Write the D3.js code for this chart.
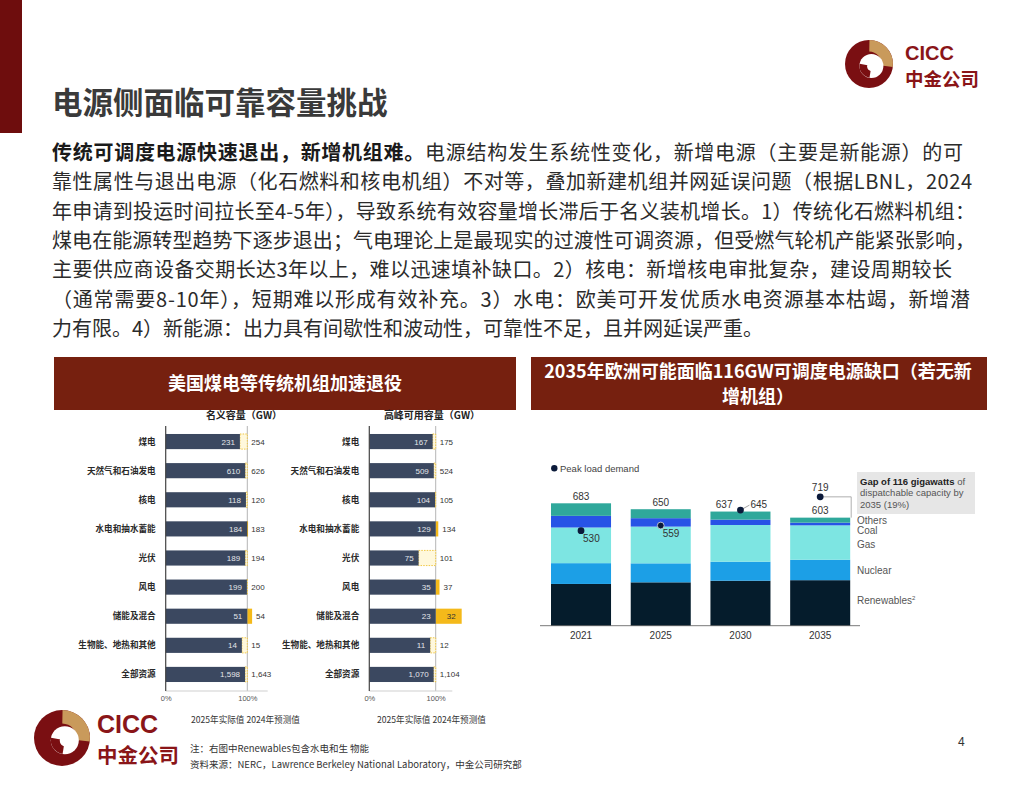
<!DOCTYPE html>
<html><head><meta charset="utf-8">
<script src="https://cdn.jsdelivr.net/npm/d3@7"></script>
<style>body{margin:0;background:#fff}svg{display:block}</style>
</head><body>
<svg id="c" width="1024" height="791"></svg>
<script>
// ---------- data ----------
const categories = ["煤电","天然气和石油发电","核电","水电和抽水蓄能","光伏","风电","储能及混合","生物能、地热和其他","全部资源"];
const nominal2025 = [231,610,118,184,189,199,51,14,1598];
const nominal2024 = [254,626,120,183,194,200,54,15,1643];
const nominalStyle = ["dashed","dashed","dashed","solid","dashed","dashed","solid","dashed","dashed"];
const peak2025 = [167,509,104,129,75,35,23,11,1070];
const peak2024 = [175,524,105,134,101,37,32,12,1104];
const peakStyle = ["dashed","dashed","dashed","solid","dashed","solid","solid","dashed","dashed"];
const pctTicks = ["0%","100%"];

const years = ["2021","2025","2030","2035"];
const seriesNames = ["Renewables","Nuclear","Gas","Coal","Others"];
const renewables = [233,242,251,254];
const nuclear = [116,106,106,114];
const gas = [199,205,205,192];
const coal = [65,47,30,15];
const others = [70,50,45,28];
const totals = [683,650,637,603];
const peakLoad = [530,559,645,719];

const paraLines = [
  ["传统可调度电源快速退出，新增机组难。","电源结构发生系统性变化，新增电源（主要是新能源）的可"],
  ["","靠性属性与退出电源（化石燃料和核电机组）不对等，叠加新建机组并网延误问题（根据LBNL，2024"],
  ["","年申请到投运时间拉长至4-5年），导致系统有效容量增长滞后于名义装机增长。1）传统化石燃料机组："],
  ["","煤电在能源转型趋势下逐步退出；气电理论上是最现实的过渡性可调资源，但受燃气轮机产能紧张影响，"],
  ["","主要供应商设备交期长达3年以上，难以迅速填补缺口。2）核电：新增核电审批复杂，建设周期较长"],
  ["","（通常需要8-10年），短期难以形成有效补充。3）水电：欧美可开发优质水电资源基本枯竭，新增潜"],
  ["","力有限。4）新能源：出力具有间歇性和波动性，可靠性不足，且并网延误严重。"]
];

// ---------- setup ----------
const svg = d3.select("#c");
const CJK = "'Noto Sans CJK SC','Noto Sans',sans-serif";
const LAT = "'Liberation Sans',Arial,sans-serif";
const MAROON = "#6e0d0d";
const HEAD = "#76200f";
const fmt = d3.format(",");

// left maroon strip
svg.append("rect").attr("x",0).attr("y",0).attr("width",22).attr("height",133).attr("fill",MAROON);

// title
svg.append("text").attr("x",52).attr("y",114).text("电源侧面临可靠容量挑战")
  .attr("font-family",CJK).attr("font-weight",700).attr("font-size",30.5).attr("fill","#3a3a3a");

// logo
function logo(cx, cy, r, textX, s){
  const g = svg.append("g");
  g.append("circle").attr("cx",cx).attr("cy",cy).attr("r",r).attr("fill","#7a0f12");
  g.append("path").attr("transform",`translate(${cx},${cy})`)
    .attr("d", d3.arc().innerRadius(r*0.52).outerRadius(r)({startAngle:0.02,endAngle:1.7}))
    .attr("fill","#c99a5b");
  g.append("circle").attr("cx",cx+r*0.1).attr("cy",cy+r*0.08).attr("r",r*0.5).attr("fill","#fff");
  g.append("path").attr("transform",`translate(${cx+r*0.1},${cy+r*0.08})`)
    .attr("d", d3.arc().innerRadius(0).outerRadius(r*0.5)({startAngle:3.3,endAngle:4.9}))
    .attr("fill","#7a0f12");
  g.append("circle").attr("cx",cx+r*0.12).attr("cy",cy+r*0.1).attr("r",r*0.2).attr("fill","#fff");
  g.append("text").attr("x",textX).attr("y",s.enY).text("CICC")
    .attr("font-family",LAT).attr("font-weight",700).attr("font-size",s.en).attr("fill","#8a1518");
  g.append("text").attr("x",textX).attr("y",s.cnY).text("中金公司")
    .attr("font-family",CJK).attr("font-weight",700).attr("font-size",s.cn).attr("fill","#8a1518");
}
logo(869, 64, 24, 905, {en:20, cn:18.5, enY:60, cnY:86});
logo(62, 738, 28, 97, {en:25, cn:20.5, enY:733, cnY:763});

// paragraph
const lineEnds = [963,972,975,975,952,970,null];
paraLines.forEach((ln,i)=>{
  const t = svg.append("text").attr("x",52).attr("y",153 + i*29.3 + 7)
    .attr("font-family",CJK).attr("font-size",20).attr("fill","#2b2b2b");
  if (ln[0]) t.append("tspan").attr("font-weight",700).attr("fill","#1a1a1a").text(ln[0]);
  t.append("tspan").text(ln[1]);
  if (lineEnds[i]) t.attr("textLength", lineEnds[i]-52).attr("lengthAdjust","spacing");
});

// section headers
svg.append("rect").attr("x",54).attr("y",357).attr("width",462).attr("height",53).attr("fill",HEAD);
svg.append("text").attr("x",285).attr("y",390).attr("text-anchor","middle").text("美国煤电等传统机组加速退役")
  .attr("font-family",CJK).attr("font-weight",700).attr("font-size",18).attr("fill","#fff");
svg.append("rect").attr("x",531).attr("y",357).attr("width",456).attr("height",53).attr("fill",HEAD);
[["2035年欧洲可能面临116GW可调度电源缺口（若无新",378],["增机组）",403]].forEach(d=>{
  svg.append("text").attr("x",758).attr("y",d[1]).attr("text-anchor","middle").text(d[0])
    .attr("font-family",CJK).attr("font-weight",700).attr("font-size",18).attr("fill","#fff");
});

// ---------- left panels ----------
function barPanel(o){
  const x = d3.scaleLinear().domain([0,1]).range([o.axisX, o.axisX+o.fullW]);
  const y = d3.scaleBand().domain(categories).range([427,689]).paddingInner(0.48).paddingOuter(0.24);
  const g = svg.append("g");
  g.append("text").attr("x",o.titleX).attr("y",419).attr("text-anchor","middle").text(o.title)
    .attr("font-family",CJK).attr("font-weight",700).attr("font-size",10).attr("fill","#222");
  g.append("line").attr("x1",x(1)).attr("x2",x(1)).attr("y1",426).attr("y2",691).attr("stroke","#b5b5b5");
  g.append("line").attr("x1",o.axisX).attr("x2",o.axisX+o.fullW*1.25).attr("y1",691).attr("y2",691).attr("stroke","#cfcfcf");
  categories.forEach((c,i)=>{
    const a = o.a[i], f = o.f[i];
    const yy = y(c), h = y.bandwidth();
    let darkEnd, yStart, yEnd;
    if (o.style[i]==="dashed"){ darkEnd = Math.min(a/f,1); yStart = darkEnd; yEnd = 1; }
    else { darkEnd = 1; yStart = Math.min(1,f/a); yEnd = Math.max(1,f/a); }
    if (o.style[i]==="dashed"){
      g.append("rect").attr("x",x(yStart)).attr("y",yy).attr("width",Math.max(0,x(yEnd)-x(yStart))).attr("height",h)
        .attr("fill","#fff8dc").attr("stroke","#efc233").attr("stroke-width",0.9).attr("stroke-dasharray","1.5,1.2");
    } else {
      g.append("rect").attr("x",x(yStart)).attr("y",yy).attr("width",Math.max(1.2,x(yEnd)-x(yStart))).attr("height",h)
        .attr("fill","#f4b91a");
    }
    g.append("rect").attr("x",x(0)).attr("y",yy).attr("width",x(darkEnd)-x(0)).attr("height",h).attr("fill","#3b4860");
    g.append("text").attr("x",x(darkEnd)-5).attr("y",yy+h/2+3).attr("text-anchor","end").text(fmt(a))
      .attr("font-family",LAT).attr("font-size",8).attr("fill","#e4e6ea");
    const yw = x(yEnd)-x(1);
    if (o.style[i]==="solid" && yw>20){
      g.append("text").attr("x",x(yEnd)-6).attr("y",yy+h/2+3).attr("text-anchor","end").text(fmt(f))
        .attr("font-family",LAT).attr("font-size",8).attr("fill","#333");
    } else {
      g.append("text").attr("x",x(Math.max(1,yEnd))+4).attr("y",yy+h/2+3).text(fmt(f))
        .attr("font-family",LAT).attr("font-size",8).attr("fill","#333");
    }
    g.append("text").attr("x",o.axisX-10).attr("y",yy+h/2+3).attr("text-anchor","end").text(c)
      .attr("font-family",CJK).attr("font-weight",700).attr("font-size",8.6).attr("fill","#2a2a2a");
  });
  g.append("line").attr("x1",o.axisX).attr("x2",o.axisX).attr("y1",426).attr("y2",691).attr("stroke","#444").attr("stroke-width",1.2);
  const ax = g.append("g").attr("transform","translate(0,691)")
    .call(d3.axisBottom(x).tickValues([0,1]).tickFormat((d,i)=>pctTicks[i]).tickSize(0).tickPadding(5));
  ax.select(".domain").remove();
  ax.selectAll("text").attr("font-family",LAT).attr("font-size",7.5).attr("fill","#555");
  g.append("text").attr("x",o.legendX).attr("y",723).text("2025年实际值 2024年预测值")
    .attr("font-family",CJK).attr("font-size",8.6).attr("fill","#333");
}
barPanel({axisX:165.7, fullW:81.6, a:nominal2025, f:nominal2024, style:nominalStyle, title:"名义容量（GW）", titleX:244, legendX:191});
barPanel({axisX:369.3, fullW:66.4, a:peak2025, f:peak2024, style:peakStyle, title:"高峰可用容量（GW）", titleX:432, legendX:377});

// ---------- right panel ----------
const colors = {Renewables:"#051c2c", Nuclear:"#1c9fe6", Gas:"#7de5e2", Coal:"#2753e6", Others:"#2fa89b"};
const base = 625.7;
const yR = d3.scaleLinear().domain([0,800]).range([base, base-800*0.1792]);
const xR = d3.scaleBand().domain(years).range([541.2,860]).paddingInner(0.247).paddingOuter(0.123);
const table = years.map((yr,i)=>({year:yr, Renewables:renewables[i], Nuclear:nuclear[i], Gas:gas[i], Coal:coal[i], Others:others[i]}));
const stack = d3.stack().keys(seriesNames)(table);
const gR = svg.append("g");
stack.forEach(s=>{
  gR.selectAll(null).data(s).enter().append("rect")
    .attr("x",d=>xR(d.data.year)).attr("width",xR.bandwidth())
    .attr("y",d=>yR(d[1])).attr("height",d=>yR(d[0])-yR(d[1]))
    .attr("fill",colors[s.key]);
});
gR.append("line").attr("x1",540).attr("x2",860).attr("y1",base).attr("y2",base).attr("stroke","#555").attr("stroke-width",0.8);
const axR = gR.append("g").attr("transform",`translate(0,${base})`).call(d3.axisBottom(xR).tickSize(0).tickPadding(6));
axR.select(".domain").remove();
axR.selectAll("text").attr("font-family",LAT).attr("font-size",10).attr("fill","#333");

// totals
years.forEach((yr,i)=>{
  const cx = xR(yr)+xR.bandwidth()/2;
  const near = Math.abs(peakLoad[i]-totals[i])<15;
  gR.append("text").attr("x", near ? cx-8 : cx).attr("y",yR(totals[i])-3.5)
    .attr("text-anchor", near ? "end" : "middle").text(totals[i])
    .attr("font-family",LAT).attr("font-size",10).attr("fill","#333");
});
// gap bracket for last year
{
  const i = years.length-1, cx = xR(years[i])+xR.bandwidth()/2, xr = xR(years[i])+xR.bandwidth()+1;
  gR.append("path").attr("d",`M${cx},${yR(peakLoad[i])}H${xr}V${yR(totals[i])}`)
    .attr("fill","none").attr("stroke","#9a9a9a").attr("stroke-width",0.8);
}
// peak load dots + labels
years.forEach((yr,i)=>{
  const cx = xR(yr)+xR.bandwidth()/2, cy = yR(peakLoad[i]);
  let lx, ly, anchor="start";
  if (i===2){
    gR.append("line").attr("x1",cx).attr("y1",cy).attr("x2",cx+9).attr("y2",cy-5).attr("stroke","#8a8a8a").attr("stroke-width",0.8);
    lx = cx+10; ly = cy-2;
  } else if (i===3){ lx = cx; ly = cy-5.5; anchor="middle"; }
  else { lx = cx+2; ly = cy+11; }
  gR.append("circle").attr("cx",cx).attr("cy",cy).attr("r",3.4).attr("fill","#0b1a3a")
    .attr("stroke", i===1 ? "#ddd" : "none").attr("stroke-width",0.8);
  gR.append("text").attr("x",lx).attr("y",ly).attr("text-anchor",anchor).text(peakLoad[i])
    .attr("font-family",LAT).attr("font-size",10).attr("fill","#333");
});
// legend
gR.append("circle").attr("cx",554.3).attr("cy",468.3).attr("r",3.2).attr("fill","#0b1a3a");
gR.append("text").attr("x",560).attr("y",471.8).text("Peak load demand")
  .attr("font-family",LAT).attr("font-size",9.5).attr("fill","#444");
// gap box
gR.append("rect").attr("x",857).attr("y",472).attr("width",118).attr("height",42).attr("fill","#e6e6e6");
const gb = gR.append("text").attr("x",860).attr("y",485).attr("font-family",LAT).attr("font-size",9.5).attr("fill","#555");
gb.append("tspan").attr("font-weight",700).attr("fill","#222").text("Gap of 116 gigawatts");
gb.append("tspan").text(" of");
gR.append("text").attr("x",860).attr("y",496).text("dispatchable capacity by").attr("font-family",LAT).attr("font-size",9.5).attr("fill","#555");
gR.append("text").attr("x",860).attr("y",508).text("2035 (19%)").attr("font-family",LAT).attr("font-size",9.5).attr("fill","#555");
// series labels next to last bar
const labelY = {Others:520, Coal:530.7, Gas:544.3, Nuclear:570, Renewables:600.7};
seriesNames.forEach(k=>{
  const t = gR.append("text").attr("x",857).attr("y",labelY[k]+3.5)
    .attr("font-family",LAT).attr("font-size",10).attr("fill","#555").text(k);
  if (k==="Renewables") t.append("tspan").attr("font-size",6).attr("dy",-4).text("2");
});

// ---------- footer ----------
svg.append("text").attr("x",190).attr("y",752).text("注：右图中Renewables包含水电和生 物能")
  .attr("font-family",CJK).attr("font-size",9.5).attr("fill","#333");
svg.append("text").attr("x",190).attr("y",768).text("资料来源：NERC，Lawrence Berkeley National Laboratory，中金公司研究部")
  .attr("font-family",CJK).attr("font-size",9.5).attr("fill","#333");
svg.append("text").attr("x",958).attr("y",746).text("4")
  .attr("font-family",LAT).attr("font-size",12).attr("fill","#333");
</script>
</body></html>
